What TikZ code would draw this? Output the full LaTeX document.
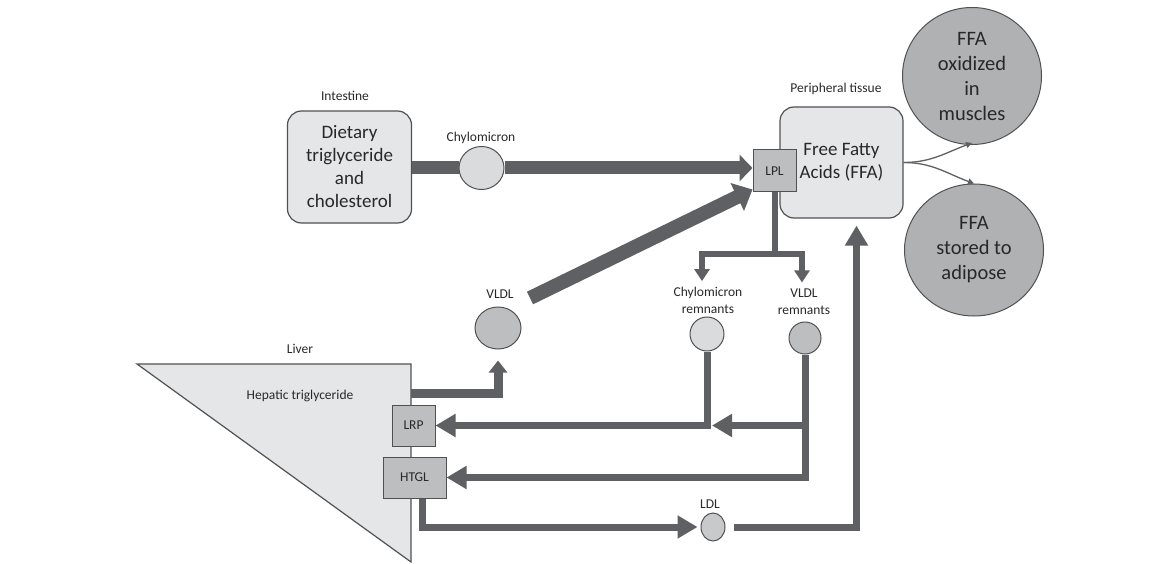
\documentclass[tikz,border=0pt]{standalone}
\usepackage{fontspec}
\setmainfont{Carlito}
\usetikzlibrary{arrows.meta,calc,shapes.geometric}
\definecolor{arr}{RGB}{95,96,99}
\definecolor{bord}{RGB}{80,81,83}
\definecolor{lightf}{RGB}{229,230,231}
\definecolor{palef}{RGB}{218,219,220}
\definecolor{medf}{RGB}{189,190,192}
\definecolor{ldlf}{RGB}{200,201,203}
\definecolor{darkf}{RGB}{176,177,179}
\definecolor{txt}{RGB}{40,40,42}
\begin{document}
\begin{tikzpicture}[x=1pt,y=-1pt,
  every node/.style={text=txt, inner sep=0pt},
  lab/.style={font=\fontsize{13.5}{17}\selectfont, align=center},
  big/.style={font=\fontsize{19}{23}\selectfont, align=center},
  bigc/.style={font=\fontsize{20.5}{25}\selectfont, align=center},
  rbox/.style={draw=bord, line width=1.2pt, fill=lightf, rounded corners=14pt, minimum width=124pt, minimum height=112pt},
  sbox/.style={draw=bord, line width=1pt, fill=medf, lab},
  blob/.style={ellipse, draw=bord, line width=1pt},
  thickarrow/.style={draw=arr, line width=13pt},
  diagarrow/.style={draw=arr, line width=14pt, -{Triangle[width=30pt,length=17pt]}},
  medarrow/.style={draw=arr, line width=7pt, -{Triangle[width=22pt,length=20pt]}},
  downarrow/.style={draw=arr, line width=6pt, -{Triangle[width=15pt,length=12pt]}},
  hvarrow/.style={draw=arr, line width=9pt, -{Triangle[width=18pt,length=12pt]}},
  thinarrow/.style={draw=arr, line width=1.3pt, -{Triangle[width=6pt,length=6pt]}}
]
\useasboundingbox (0,0) rectangle (1164,564);

% liver triangle
\draw[draw=bord, line width=1.2pt, fill=lightf] (137,364) -- (411,364) -- (411,562) -- cycle;
\node[lab] (liverlab) at (300,349) {Liver};
\node[lab] (heplab) at (300,396) {Hepatic triglyceride};
\coordinate (liverE) at (411,393);

% nodes
\node[lab] (intlab) at (345,96) {Intestine};
\node[rbox, big] (diet) at (349.5,167) {Dietary\\triglyceride\\and\\cholesterol};
\node[lab] (chylab) at (481,138) {Chylomicron};
\node[blob, fill=palef, minimum width=45pt, minimum height=43pt] (chylo) at (481.5,168) {};

\node[lab] (perlab) at (836,89) {Peripheral tissue};
\node[rbox, big, minimum height=111pt, minimum width=123pt] (ffa) at (841.5,162.5) {Free Fatty\\Acids (FFA)};
\node[sbox, minimum width=43pt, minimum height=42pt] (lpl) at (774.5,171) {LPL};

\node[blob, fill=darkf, minimum width=139pt, minimum height=137pt, bigc] (ox) at (972,76) {FFA\\oxidized\\in\\muscles};
\node[blob, fill=darkf, minimum width=139pt, minimum height=132pt, bigc] (st) at (974,250) {FFA\\stored to\\adipose};

\node[lab] (vldllab) at (500,294) {VLDL};
\node[blob, fill=medf, minimum width=46pt, minimum height=42pt] (vldl) at (498,328) {};
\node[lab] (crlab) at (708,300.5) {Chylomicron\\remnants};
\node[blob, fill=palef, minimum width=34pt, minimum height=34pt] (crem) at (707,334) {};
\node[lab] (vrlab) at (804,301.5) {VLDL\\remnants};
\node[blob, fill=medf, minimum width=32pt, minimum height=32pt] (vrem) at (805,338) {};
\node[lab] (ldllab) at (710,504) {LDL};
\node[blob, fill=ldlf, minimum width=24pt, minimum height=28pt] (ldl) at (713,527) {};

\node[sbox, minimum width=43pt, minimum height=41pt] (lrp) at (413.5,425.5) {LRP};
\node[sbox, minimum width=63pt, minimum height=41pt] (htgl) at (414.5,477.5) {HTGL};

% connectors
\draw[thickarrow] (diet.east |- chylo.west) -- (chylo.west);
\draw[thickarrow, -{Triangle[width=26pt,length=13pt]}] (chylo.east) -- (chylo.east -| lpl.west);
\coordinate (vd) at (530,298);
\draw[diagarrow] (vd) -- ([yshift=3pt]lpl.south west);

\coordinate (bj) at ($(lpl.south)+(0,61)$);
\draw[draw=arr, line width=6pt] (lpl.south) -- (bj);
\draw[downarrow, shorten >=6pt] (bj) -| ([xshift=-6pt]crlab.north);
\draw[downarrow, shorten >=6pt] (bj) -| ([xshift=-2pt]vrlab.north);

\draw[thinarrow] (ffa.east) to[out=0, in=200] ([yshift=2pt]ox.south);
\draw[thinarrow] (ffa.east) to[out=0, in=160] (st.north);

\draw[hvarrow, shorten >=11pt] (liverE) -| (vldl.south);

\draw[medarrow] (crem.south) |- (lrp.east);
\coordinate (jn) at (crem.south |- lrp.east);
\draw[medarrow] (vrem.south |- lrp.east) -- ([xshift=5pt]jn);
\draw[medarrow] (vrem.south) |- (htgl.east);
\draw[medarrow, shorten >=3pt] ([xshift=8pt]htgl.south) |- (ldl.west);
\draw[medarrow, shorten <=8pt, shorten >=7pt] (ldl.east) -| ([xshift=15pt]ffa.south);
\end{tikzpicture}
\end{document}
